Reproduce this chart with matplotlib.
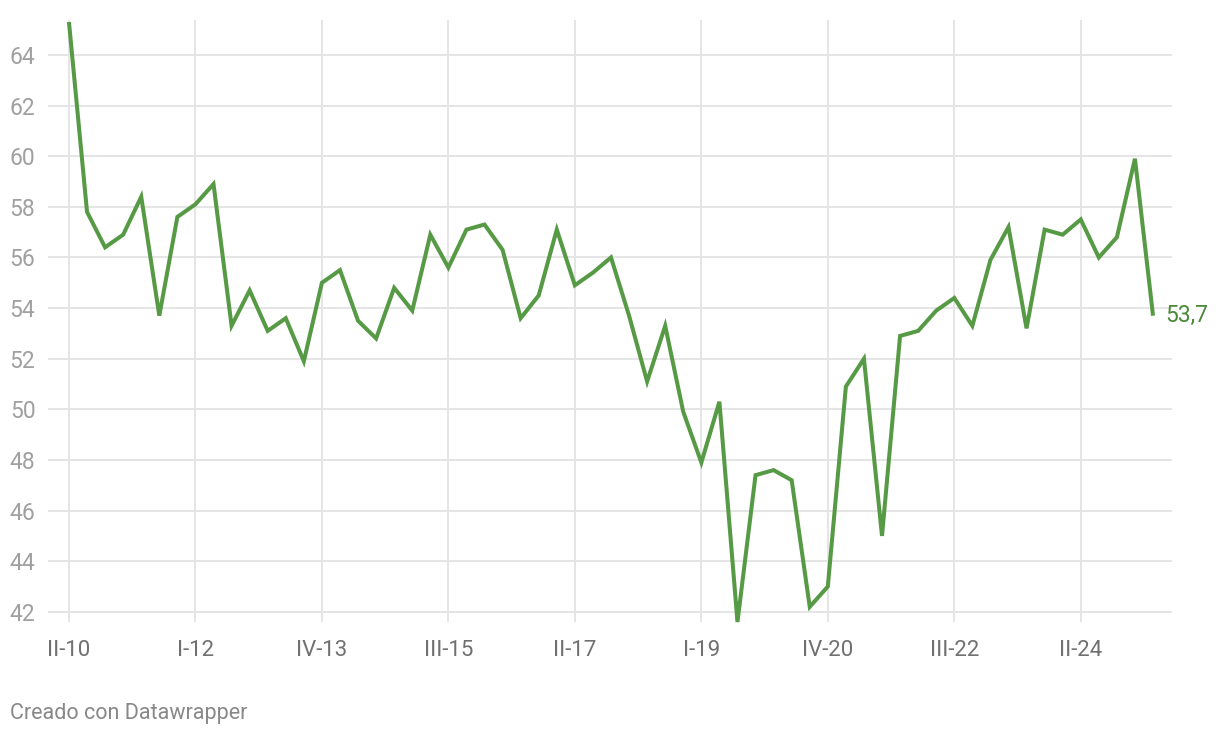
import matplotlib
matplotlib.use("Agg")
import matplotlib.pyplot as plt

plt.rcParams['font.family'] = ['Roboto', 'DejaVu Sans']

roman = ["I", "II", "III", "IV"]
# quarters from II-10 to II-25
quarters = []
for yr in range(10, 26):
    for q in range(4):
        quarters.append(f"{roman[q]}-{yr}")
quarters = quarters[1:62]

values = [65.3, 57.8, 56.4, 56.9, 58.4, 53.7, 57.6, 58.1, 58.9, 53.3,
          54.7, 53.1, 53.6, 51.9, 55.0, 55.5, 53.5, 52.8, 54.8, 53.9,
          56.9, 55.6, 57.1, 57.3, 56.3, 53.6, 54.5, 57.1, 54.9, 55.4,
          56.0, 53.7, 51.1, 53.3, 49.9, 47.9, 50.3, 41.6, 47.4, 47.6,
          47.2, 42.2, 43.0, 50.9, 52.0, 45.0, 52.9, 53.1, 53.9, 54.4,
          53.3, 55.9, 57.2, 53.2, 57.1, 56.9, 57.5, 56.0, 56.8, 59.9,
          53.7]

xtick_labels = ["II-10", "I-12", "IV-13", "III-15", "II-17", "I-19", "IV-20", "III-22", "II-24"]
yticks = [42, 44, 46, 48, 50, 52, 54, 56, 58, 60, 62, 64]

W, H = 1220, 738
fig = plt.figure(figsize=(W / 100, H / 100), dpi=100)
left, right = 48 / W, 1172 / W
bottom, top = (H - 622) / H, (H - 20) / H
ax = fig.add_axes([left, bottom, right - left, top - bottom])

x = list(range(len(values)))
xtick_pos = [quarters.index(l) for l in xtick_labels]

ax.set_xlim(-1.16, 61.05)
ax.set_ylim(41.6, 65.38)

grid_c = "#e5e5e5"
for yv in yticks:
    ax.axhline(yv, color=grid_c, lw=1.4, zorder=1)
for xv in xtick_pos:
    ax.axvline(xv, color=grid_c, lw=1.4, zorder=1)

green = "#579a45"
ax.plot(x, values, color=green, lw=2.9, solid_joinstyle="miter", solid_capstyle="butt", zorder=3, clip_on=False)

ax.annotate(f"{values[-1]:.1f}".replace(".", ","), xy=(x[-1], values[-1]),
            xytext=(8.5, 0), textcoords="offset points", color="#4a8a3a",
            fontsize=16.5, va="center", ha="left", annotation_clip=False)

for s in ax.spines.values():
    s.set_visible(False)
ax.set_yticks(yticks)
ax.set_yticklabels([str(v) for v in yticks], color="#a0a0a0", fontsize=16.5)
ax.set_xticks(xtick_pos)
ax.set_xticklabels(xtick_labels, color="#707070", fontsize=16)
ax.tick_params(axis="y", length=0, pad=9)
ax.tick_params(axis="x", length=0, pad=13)

fig.text(10 / W, 1 - 714 / H, "Creado con Datawrapper", color="#888888",
         fontsize=15.5, va="center", ha="left")

fig.savefig("out.png", dpi=100, facecolor="white")
